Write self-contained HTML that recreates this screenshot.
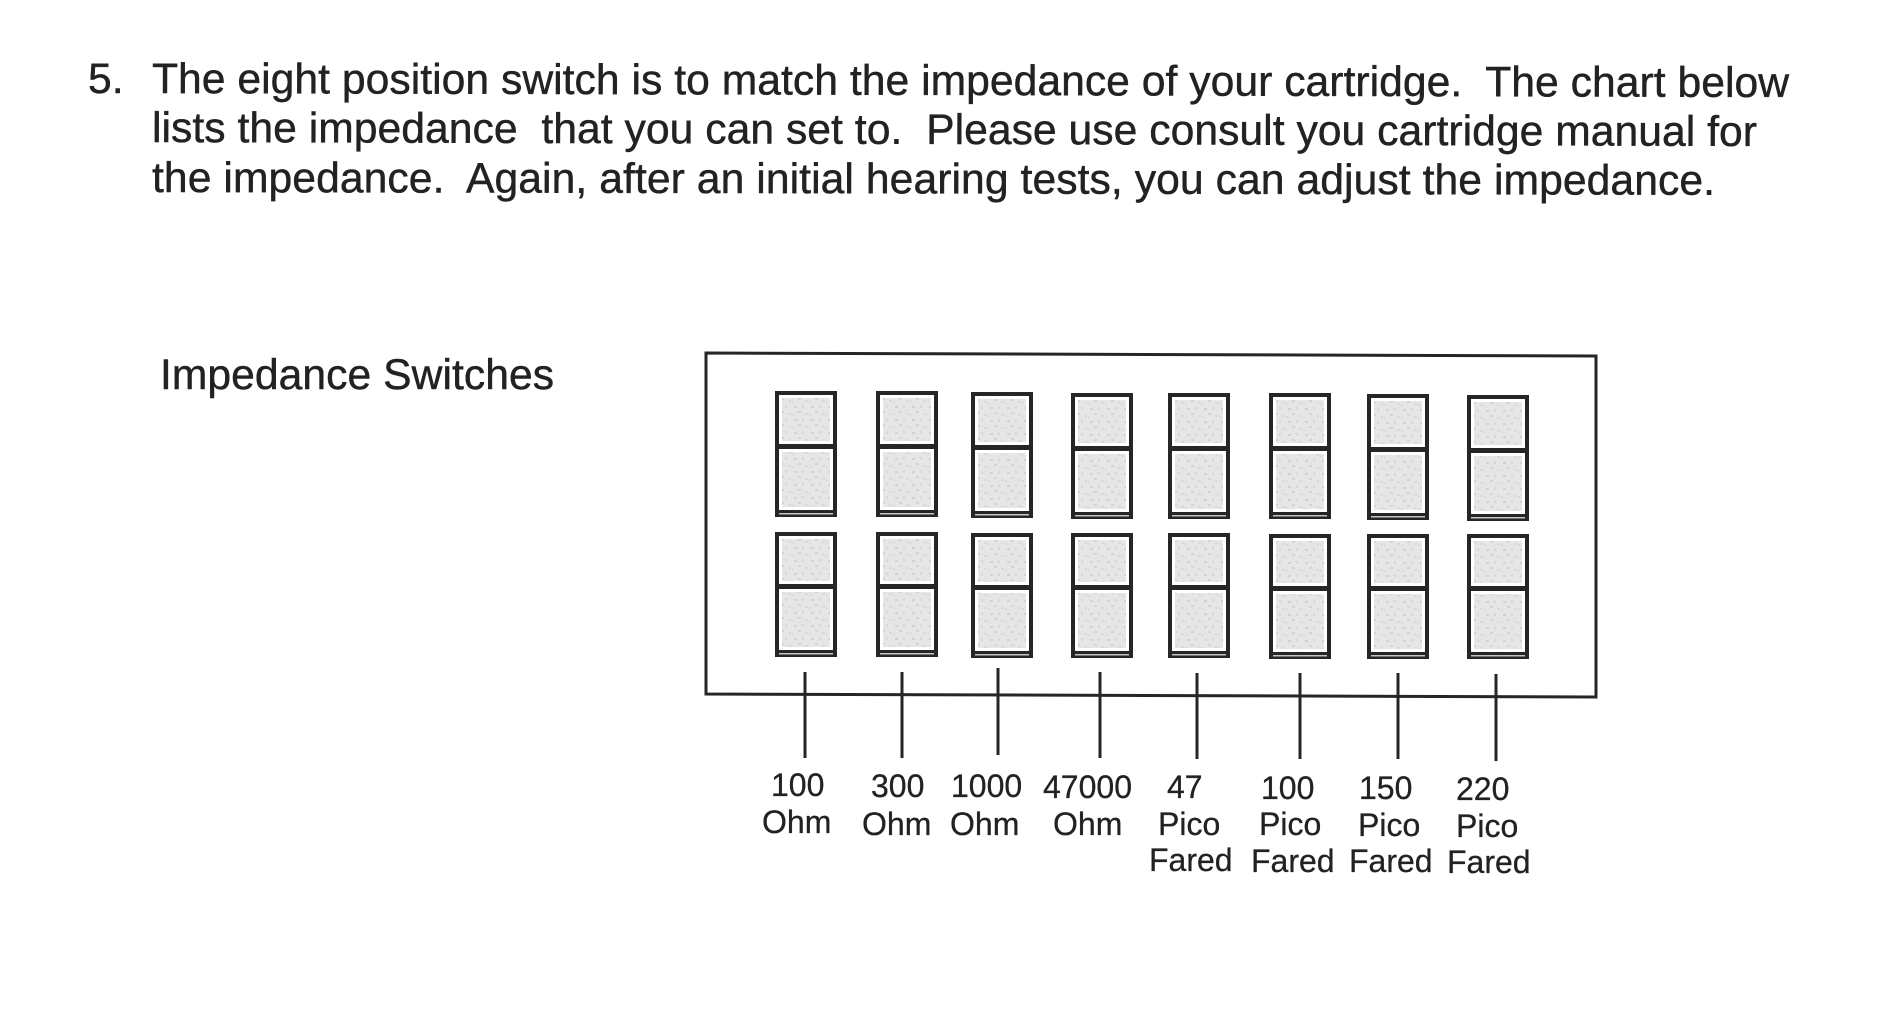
<!DOCTYPE html>
<html>
<head>
<meta charset="utf-8">
<style>
html,body{margin:0;padding:0;background:#fff;width:1904px;height:1024px;overflow:hidden}
svg{display:block}
text{font-family:"Liberation Sans",Arial,sans-serif;fill:#222;white-space:pre}
.m{font-size:42.6px;stroke:#222;stroke-width:.45px}
.l{font-size:32px;stroke:#222;stroke-width:.3px}
</style>
</head>
<body>
<svg width="1904" height="1024" viewBox="0 0 1904 1024" xmlns="http://www.w3.org/2000/svg">
<defs>
<pattern id="sp" width="17" height="13" patternUnits="userSpaceOnUse">
<rect width="17" height="13" fill="#e6e6e6"/>
<rect x="2" y="2" width="3" height="2" fill="#d2d2d2"/>
<rect x="10" y="1" width="2" height="3" fill="#d8d8d8"/>
<rect x="6" y="7" width="3" height="2" fill="#d4d4d4"/>
<rect x="13" y="9" width="3" height="2" fill="#dadada"/>
<rect x="0" y="10" width="2" height="2" fill="#dcdcdc"/>
</pattern>
<g id="t">
<rect width="62" height="126" fill="#262626"/>
<rect x="4" y="4" width="54" height="49" fill="#fff"/>
<rect x="4" y="58" width="54" height="61" fill="#fff"/>
<rect x="7" y="7" width="48" height="43" fill="url(#sp)"/>
<rect x="7" y="61" width="48" height="55" fill="url(#sp)"/>
<rect x="4" y="122" width="54" height="1.5" fill="#c4c4c4"/>
</g>
<g id="b">
<rect width="62" height="125" fill="#262626"/>
<rect x="4" y="4" width="54" height="48" fill="#fff"/>
<rect x="4" y="57" width="54" height="61" fill="#fff"/>
<rect x="7" y="7" width="48" height="42" fill="url(#sp)"/>
<rect x="7" y="60" width="48" height="55" fill="url(#sp)"/>
<rect x="4" y="121" width="54" height="1.5" fill="#c4c4c4"/>
</g>
</defs>

<text class="m" x="88" y="93" transform="rotate(0.14 88 93)">5.</text>
<text class="m" x="152" y="93" textLength="1637" lengthAdjust="spacing" transform="rotate(0.14 152 93)">The eight position switch is to match the impedance of your cartridge.  The chart below</text>
<text class="m" x="152" y="142" textLength="1605" lengthAdjust="spacing" transform="rotate(0.14 152 142)">lists the impedance  that you can set to.  Please use consult you cartridge manual for</text>
<text class="m" x="152" y="192" textLength="1563" lengthAdjust="spacing" transform="rotate(0.1 152 192)">the impedance.  Again, after an initial hearing tests, you can adjust the impedance.</text>
<text class="m" x="160" y="389" textLength="394" lengthAdjust="spacing">Impedance Switches</text>

<path d="M706 353 L1596 356 L1596 697 L706 694 Z" fill="none" stroke="#262626" stroke-width="3"/>

<use href="#t" x="775" y="391"/>
<use href="#t" x="876" y="391"/>
<use href="#t" x="971" y="392"/>
<use href="#t" x="1071" y="393"/>
<use href="#t" x="1168" y="393"/>
<use href="#t" x="1269" y="393"/>
<use href="#t" x="1367" y="394"/>
<use href="#t" x="1467" y="395"/>
<use href="#b" x="775" y="532"/>
<use href="#b" x="876" y="532"/>
<use href="#b" x="971" y="533"/>
<use href="#b" x="1071" y="533"/>
<use href="#b" x="1168" y="533"/>
<use href="#b" x="1269" y="534"/>
<use href="#b" x="1367" y="534"/>
<use href="#b" x="1467" y="534"/>

<g stroke="#262626" stroke-width="3" fill="none">
<path d="M805 672V758"/>
<path d="M902 672V758"/>
<path d="M998 668V755"/>
<path d="M1100 672V758"/>
<path d="M1197 673V759"/>
<path d="M1300 673V759"/>
<path d="M1398 673V759"/>
<path d="M1496 674V761"/>
</g>

<text class="l" x="771" y="796">100</text>
<text class="l" x="762" y="833">Ohm</text>
<text class="l" x="871" y="797">300</text>
<text class="l" x="862" y="835">Ohm</text>
<text class="l" x="951" y="797">1000</text>
<text class="l" x="950" y="835">Ohm</text>
<text class="l" x="1043" y="798">47000</text>
<text class="l" x="1053" y="835">Ohm</text>
<text class="l" x="1167" y="798">47</text>
<text class="l" x="1158" y="835">Pico</text>
<text class="l" x="1149" y="871">Fared</text>
<text class="l" x="1261" y="799">100</text>
<text class="l" x="1259" y="835">Pico</text>
<text class="l" x="1251" y="872">Fared</text>
<text class="l" x="1359" y="799">150</text>
<text class="l" x="1358" y="836">Pico</text>
<text class="l" x="1349" y="872">Fared</text>
<text class="l" x="1456" y="800">220</text>
<text class="l" x="1456" y="837">Pico</text>
<text class="l" x="1447" y="873">Fared</text>
</svg>
</body>
</html>
